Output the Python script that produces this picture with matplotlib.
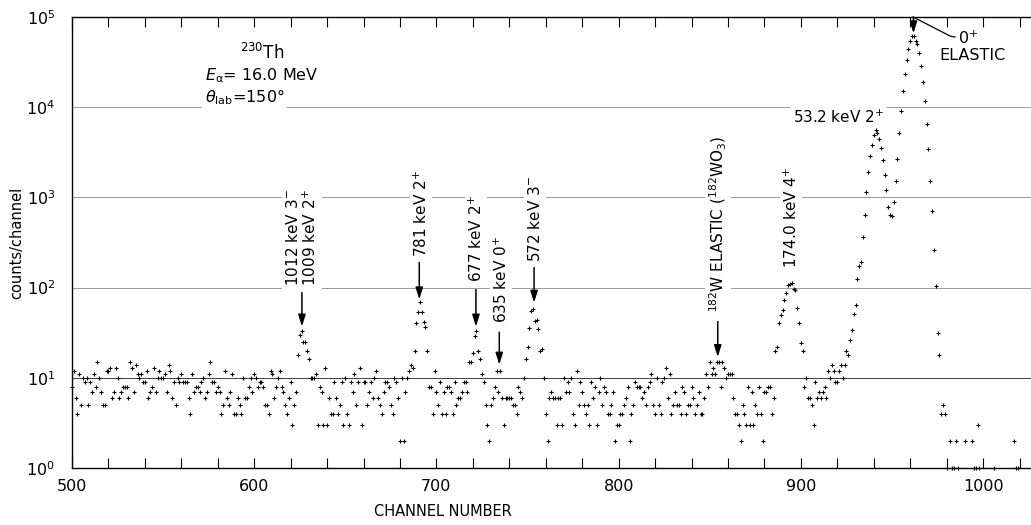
import numpy as np
import matplotlib.pyplot as plt
from matplotlib.ticker import MultipleLocator, LogLocator, NullLocator

# counts per channel (0 = no point drawn)
counts_500 = [8, 12, 6, 4, 11, 5, 10, 9, 10, 5,
              9, 7, 11, 8, 15, 10, 7, 5, 5, 12,
              12, 13, 6, 7, 13, 10, 6, 7, 8, 8,
              8, 6, 15, 13, 7, 14, 11, 10, 11, 9,
              9, 12, 6, 7, 8, 13, 7, 10, 12, 10,
              10, 11, 7, 14, 12, 6, 9, 5, 10, 9,
              11, 9, 9, 9, 6, 4, 11, 7, 8, 8,
              7, 9, 10, 6, 7, 11, 15, 9, 9, 7,
              8, 7, 4, 5, 12, 6, 5, 7, 11, 4]
counts_590 = [4, 6, 5, 4, 10, 6, 6, 8, 10, 7,
              11, 10, 8, 9, 9, 8, 5, 5, 4, 12,
              11, 6, 8, 10, 12, 8, 7, 5, 4, 6,
              9, 3, 5, 7, 18, 30, 33, 25, 25, 20,
              16, 10, 10, 10, 11, 3, 8, 7, 3, 13,
              3, 6, 4, 4, 9, 6, 4, 5, 9, 3,
              10, 4, 3, 9, 7, 11, 5, 9, 13, 3,
              9, 9, 5, 7, 9, 6, 10, 12, 6, 5,
              4, 7, 9, 9, 8, 5, 4]
counts_677 = [10, 9, 6, 2, 10, 2, 7, 10, 12, 14,
              13, 20, 41, 53, 69, 53, 42, 37, 20, 8,
              8, 4, 12, 7, 5, 9, 4, 7, 4, 8,
              8, 7, 4, 9, 5, 6, 6, 7, 9, 9,
              7, 15, 15, 19, 29, 33, 20, 16, 11, 9,
              5, 3, 2, 5, 6, 8, 12, 7, 12, 6,
              3, 6, 6, 6, 6, 5, 5, 4, 8, 7,
              6, 10, 16, 22, 36, 55, 58, 43, 44, 35,
              20, 21, 10, 4, 2, 6, 7, 6]
counts_765 = [6, 3, 6, 6, 3, 10, 7, 9, 7, 10,
              4, 3, 12, 5, 9, 7, 5, 4, 5, 3,
              9, 6, 8, 3, 7, 10, 5, 8, 7, 4,
              4, 5, 7, 2, 3, 3, 4, 4, 5, 6,
              8, 2, 4, 5, 9, 8, 8, 8, 6, 7,
              5, 8, 9, 11, 5, 4, 10, 5, 4, 9,
              10, 13, 6, 11, 4, 5, 7, 5, 5, 4,
              8, 7, 4, 5, 5, 8, 6, 4, 5, 7,
              4, 4, 6]
counts_848 = [11, 8, 15, 11, 13, 11, 15, 15, 8, 15,
              13, 10, 11, 11, 11, 6, 4, 4, 3, 2,
              5, 4, 3, 8, 3, 7, 3, 5, 4, 8,
              4, 2, 7, 7, 8, 8, 4, 6, 20, 22,
              40, 50, 57, 73, 87, 106, 111, 113, 97, 95,
              60, 40, 24, 20, 8, 10, 6, 6, 5, 3,
              9, 6, 7, 6, 7, 8, 6, 12, 10, 14,
              12, 9, 9, 12, 14, 10, 14, 20, 18, 26,
              34, 51, 64]
counts_931 = [123, 172, 194, 360, 630, 1145, 1930, 2880, 3850, 4930,
              5600, 5230, 4490, 3560, 2600, 1785, 1197, 774, 637, 620,
              895, 1506, 2666, 5190, 9100, 15070, 23270, 33300, 44000, 53700,
              61000, 62000, 54600, 50100, 39500, 28800, 19100, 11750, 6470, 3414,
              1519, 705, 264, 103, 31, 18, 4, 5, 4]
counts_980 = [1, 0, 2, 1, 1, 2, 1, 0, 0, 0,
              2, 0, 0, 0, 2, 1, 1, 3, 1, 0,
              0, 0, 0, 0, 0, 0, 1, 0, 0, 0,
              0, 0, 0, 0, 0, 0, 0, 2, 1, 1, 0]

counts = np.array(counts_500 + counts_590 + counts_677 + counts_765
                  + counts_848 + counts_931 + counts_980)
channel = 500 + np.arange(len(counts))
shown = counts > 0

# peak labels: (text, x of text, bottom of text, arrow x, arrow tail, arrow tip)
peak_labels = [
    ("1012 keV 3$^{-}$\n1009 keV 2$^{+}$", 626.2, 103, 626.2, 88, 37),
    ("781 keV 2$^{+}$", 691.5, 221, 690.6, 190, 74),
    ("677 keV 2$^{+}$", 721.7, 114, 721.7, 95, 37),
    ("635 keV 0$^{+}$", 735.5, 41, 734.5, 32, 14),
    ("572 keV 3$^{-}$", 754.1, 190, 753.6, 167, 68),
    ("$^{182}$W ELASTIC ($^{182}$WO$_3$)", 854.6, 53, 854.4, 42, 17),
]

plt.rcParams['font.family'] = ['DejaVu Sans']
plt.rcParams['mathtext.default'] = 'regular'

fig = plt.figure(figsize=(10.31, 5.25), dpi=100)
ax = fig.add_axes([0.0698, 0.1086, 0.9302, 0.859])
ax.set_yscale('log')
ax.set_ylim(1, 1e5)
ax.set_xlim(500, 1026.3)

for level in [10, 100, 1000, 10000]:
    ax.axhline(level, color='0.25' if level == 10 else '0.6', lw=0.7, zorder=1)

ax.plot(channel[shown], counts[shown], ls='none', marker='+', ms=3.3, mew=0.8,
        color='k', clip_on=False, zorder=4)

ax.spines['right'].set_visible(False)
for s in ['left', 'top', 'bottom']:
    ax.spines[s].set_linewidth(1.0)

ax.xaxis.set_major_locator(MultipleLocator(100))
ax.xaxis.set_minor_locator(MultipleLocator(20))
ax.tick_params(axis='x', which='both', direction='in', top=True, length=7,
               width=0.8, labelsize=11.5, pad=8)
ax.yaxis.set_major_locator(LogLocator(base=10, numticks=10))
ax.yaxis.set_minor_locator(NullLocator())
ax.tick_params(axis='y', length=0, labelsize=11.5, pad=12)

ax.set_ylabel("counts/channel", fontsize=10.5)
ax.yaxis.set_label_coords(-0.050, 0.5)
fig.text(443 / 1031, 1 - 512 / 525, "CHANNEL NUMBER", ha='center', va='center',
         fontsize=10.5)

white = dict(fc='white', ec='none', pad=2)
for text, tx, ty, axx, tail, tip in peak_labels:
    ax.text(tx, ty, text, rotation=90, ha='center', va='bottom',
            multialignment='left', fontsize=11, linespacing=1.1,
            bbox=white, zorder=3)
    ax.annotate("", xy=(axx, tip), xytext=(axx, tail),
                arrowprops=dict(arrowstyle='-|>,head_length=0.7,head_width=0.22',
                                color='k', lw=1.1, shrinkA=0, shrinkB=0))

ax.text(894.6, 167, "174.0 keV 4$^{+}$", rotation=90, ha='center', va='bottom',
        fontsize=11, bbox=white, zorder=3)
ax.text(895.7, 7740, "53.2 keV 2$^{+}$", ha='left', va='center', fontsize=11,
        bbox=white, zorder=3)

# elastic peak arrow and leader to its label
ax.annotate("", xy=(961.8, 6.6e4), xytext=(961.8, 1e5),
            arrowprops=dict(arrowstyle='-|>,head_length=0.7,head_width=0.22',
                            color='k', lw=1.1, shrinkA=0, shrinkB=0),
            annotation_clip=False)
ax.plot([961.6, 981.9, 984.6], [1e5, 10 ** 4.789, 10 ** 4.778], color='k',
        lw=0.9, clip_on=False, zorder=3)
ax.text(991.8, 10 ** 4.767, "0$^{+}$", ha='center', va='center', fontsize=11.5)
ax.text(994, 10 ** 4.572, "ELASTIC", ha='center', va='center', fontsize=11.5)

# target / beam block
ax.text(592, 10 ** 4.600, "$^{230}$Th", ha='left', va='center', fontsize=12,
        zorder=3)
ax.text(573, 10 ** 4.110, "$\\mathit{\\theta}_{lab}$=150°", ha='left',
        va='center', fontsize=11.5, bbox=white, zorder=3)
ax.text(573, 10 ** 4.350, "$\\mathit{E}_{\\alpha}$= 16.0 MeV", ha='left',
        va='center', fontsize=11.5, zorder=3.5)

fig.savefig("out.png", dpi=100)
